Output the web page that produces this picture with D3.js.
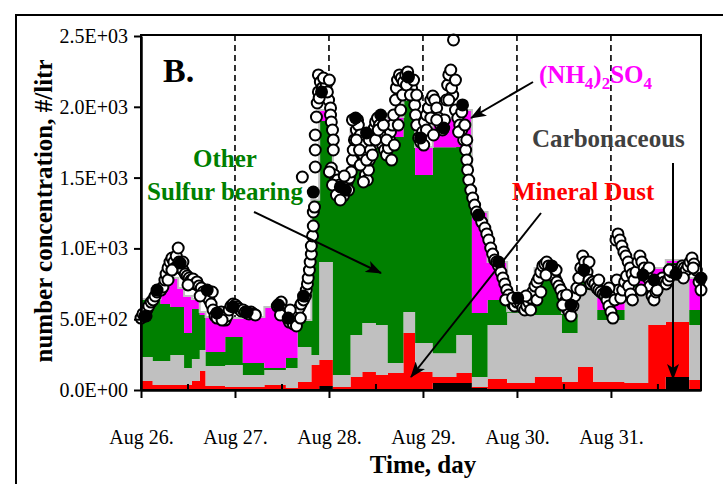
<!DOCTYPE html>
<html>
<head>
<meta charset="utf-8">
<script src="https://cdn.jsdelivr.net/npm/d3@7"></script>
<style>
  body { margin: 0; background: #fff; }
  svg { display: block; font-family: "Liberation Serif", "Times New Roman", serif; }
</style>
</head>
<body>
<svg id="chart" width="723" height="484"></svg>
<script type="text/javascript">

// step starts, hours after Aug 26 00:00
var stepHours = [0, 3, 5, 7.5, 9.5, 11, 13, 15, 16.5, 21.5, 26, 31.5, 37, 40, 43.5, 45.5, 49, 53.5, 56.5, 60,
                 63, 67, 70, 74.5, 80.5, 84.5, 88.5, 93.5, 100.5, 104.5, 107.5, 111.5, 115.5, 116.5, 123.5, 129.5, 134, 140];
var endHour = 143;

var carbonaceous = [0, 0, 0, 0, 0, 0, 0, 0, 0, 0, 0, 0, 0, 0, 0, 28, 0, 0, 0, 0,
                    0, 0, 0, 49, 49, 14, 0, 0, 0, 0, 0, 0, 0, 0, 0, 0, 92, 0];
var mineralDust = [64, 35, 35, 35, 35, 35, 64, 134, 28, 21, 21, 35, 14, 56, 177, 184, 21, 92, 127, 106,
                   120, 403, 127, 42, 71, 7, 78, 49, 92, 92, 56, 162, 56, 56, 49, 459, 388, 71];
var otherPart = [169, 169, 169, 212, 212, 120, 155, 148, 141, 155, 85, 106, 141, 247, 71, 692, 85, 297, 346, 353,
                 71, 148, 205, 169, 268, 71, 381, 494, 438, 438, 346, 544, 650, 438, 678, 297, 403, 388];
var sulfurBearing = [410, 438, 403, 339, 339, 247, 353, 247, 99, 198, 85, 14, 71, 191, 1095, 996, 1271, 1328, 1243, 1342,
                     1596, 1497, 1186, 1455, 1328, 452, 177, 14, 275, 247, 141, 99, 99, 71, 21, 14, 14, 106];
var ammSulfate = [0, 0, 169, 205, 134, 261, 71, 21, 247, 134, 325, 431, 325, 0, 0, 78, 56, 134, 0, 106,
                  141, 0, 198, 205, 261, 713, 268, 0, 56, 0, 0, 0, 0, 92, 28, 92, 21, 226];

// measured total concentration (open circles)
var obsHours = [0.0, 0.5, 1.0, 1.5, 2.0, 2.6, 3.1, 3.6, 4.1, 4.6, 5.1, 5.6, 6.1, 6.4, 6.9, 7.4, 7.9, 8.4, 8.7, 9.0,
  9.5, 9.7, 10.2, 10.7, 11.3, 11.8, 12.3, 12.8, 13.3, 13.8, 14.3, 14.8, 15.4, 15.9, 16.4, 16.9, 17.4, 17.9, 18.4, 18.9,
  19.4, 20.0, 20.5, 21.0, 21.5, 22.0, 22.5, 23.0, 23.5, 24.1, 24.6, 25.1, 25.6, 26.1, 26.6, 27.1, 27.6, 28.1, 28.7, 29.2,
  34.8, 35.3, 35.8, 36.3, 36.8, 37.4, 37.9, 38.4, 38.9, 39.4, 39.9, 40.4, 40.9, 41.5, 42.0, 42.2, 42.5, 42.7, 43.0, 43.2,
  43.5, 43.5, 43.8, 44.0, 44.0, 44.3, 41.2, 44.5, 44.5, 44.5, 44.8, 45.0, 45.3, 45.3, 45.8, 46.3, 46.8, 47.3, 47.9, 48.4,
  48.4, 48.6, 48.9, 49.1, 49.1, 48.6, 49.4, 50.2, 50.7, 51.2, 51.7, 52.2, 52.7, 53.2, 53.7, 54.0, 54.2, 54.5, 55.0, 55.3,
  55.5, 56.0, 56.5, 56.8, 57.1, 57.3, 57.8, 58.1, 58.3, 58.6, 58.9, 59.1, 59.6, 59.9, 60.4, 60.9, 61.2, 61.7, 62.2, 62.7,
  63.2, 63.5, 63.7, 64.2, 64.5, 65.0, 65.2, 65.5, 66.0, 66.5, 67.0, 67.6, 68.1, 68.6, 69.1, 69.3, 69.9, 70.1, 70.4, 70.9,
  71.4, 71.9, 72.4, 72.9, 73.4, 74.0, 74.5, 75.0, 75.5, 76.0, 76.5, 77.0, 77.5, 78.0, 78.3, 78.6, 79.1, 79.8, 79.6, 80.3,
  80.9, 81.4, 81.9, 82.4, 82.9, 83.2, 83.4, 83.7, 84.2, 84.7, 85.2, 85.7, 86.2, 87.0, 87.8, 88.3, 88.8, 89.3, 89.8, 90.3,
  90.8, 91.3, 91.9, 92.4, 92.9, 93.4, 93.9, 94.4, 94.9, 95.4, 96.0, 96.5, 97.0, 97.5, 98.0, 98.5, 99.0, 99.5, 99.5, 100.0,
  100.6, 101.1, 101.1, 101.6, 102.1, 102.1, 102.6, 103.1, 103.6, 104.1, 104.7, 105.2, 105.7, 106.2, 106.7, 107.2, 107.7, 108.2, 108.7, 109.3,
  109.8, 110.3, 110.8, 111.3, 111.8, 112.3, 112.8, 113.3, 113.9, 114.4, 114.9, 115.4, 115.9, 116.4, 116.9, 117.4, 118.0, 118.5, 119.0, 119.5,
  120.0, 120.5, 121.0, 121.3, 121.5, 121.8, 122.0, 122.3, 122.5, 122.8, 123.0, 123.3, 123.5, 123.8, 124.0, 124.4, 124.5, 124.9, 125.0, 125.4,
  125.5, 125.9, 126.4, 126.9, 127.4, 127.9, 128.5, 129.0, 129.5, 130.0, 130.5, 131.0, 131.5, 132.0, 132.5, 133.1, 133.6, 134.1, 134.6, 135.1,
  135.6, 136.1, 136.6, 137.1, 137.7, 138.2, 138.7, 139.2, 139.7, 140.2, 140.7, 141.2, 141.8, 142.5, 143.0,
  45.5, 46.6, 47.6, 48.1, 48.1, 48.9, 49.9, 50.9, 51.9, 53.0, 54.0, 55.0, 55.8, 56.0, 56.8, 57.6, 58.3, 59.1, 59.9, 60.6,
  61.9, 62.7, 64.0, 64.7, 65.7, 66.3, 66.8, 67.8, 68.8, 69.6, 70.4, 72.2, 72.9, 74.0, 74.7, 75.5, 78.6, 79.3, 80.3, 81.1,
  81.9, 82.7, 83.2, 6.9, 7.9, 10.7, 12.0, 15.1, 18.2, 20.7, 35.6, 38.1, 39.7, 40.7, 93.1, 94.9, 98.3, 103.4, 106.0, 107.7,
  108.7, 112.3, 114.4, 116.9, 119.5, 127.7, 129.7, 131.8, 134.9, 138.5, 141.0];
var obsValues = [508, 537, 523, 565, 593, 621, 636, 664, 692, 706, 706, 727, 777, 819, 862, 904, 932, 904, 862, 946,
  1003, 904, 876, 847, 819, 805, 791, 777, 784, 749, 763, 734, 720, 692, 678, 664, 636, 607, 565, 523,
  508, 537, 551, 523, 494, 523, 565, 593, 607, 600, 586, 572, 558, 565, 551, 544, 537, 551, 537, 530,
  593, 607, 621, 565, 537, 508, 480, 494, 466, 508, 551, 579, 607, 636, 664, 706, 749, 791, 847, 904,
  960, 1017, 1088, 1158, 1257, 1292, 1504, 1575, 1695, 1801, 1928, 2027, 2105, 2225, 2175, 2133, 2083, 2154, 2048, 1992,
  1942, 1893, 1836, 1766, 1695, 1568, 1518, 1483, 1448, 1398, 1370, 1427, 1469, 1497, 1540, 1624, 1695, 1766, 1836, 1907,
  1871, 1801, 1730, 1660, 1589, 1518, 1483, 1554, 1624, 1695, 1766, 1822, 1850, 1893, 1921, 1871, 1801, 1730, 1695, 1660,
  1709, 1766, 1822, 1871, 1942, 2048, 2133, 2189, 2225, 2203, 2175, 2225, 2246, 2189, 2133, 2083, 2013, 1942, 1871, 1780,
  1751, 1822, 1893, 1942, 1992, 2048, 2076, 2048, 1992, 1921, 1871, 1836, 1907, 2048, 2154, 2225, 2260, 2472, 2083, 1977,
  1921, 1871, 1836, 1766, 1695, 1624, 1554, 1483, 1412, 1356, 1306, 1257, 1229, 1186, 1144, 1102, 1059, 1003, 960, 918,
  904, 876, 833, 791, 749, 706, 671, 636, 607, 593, 621, 636, 607, 579, 565, 593, 621, 650, 565, 692,
  734, 763, 636, 791, 833, 692, 876, 890, 904, 876, 847, 819, 791, 763, 734, 706, 664, 621, 579, 551,
  523, 593, 664, 720, 791, 862, 946, 904, 833, 777, 749, 763, 749, 720, 706, 692, 678, 664, 636, 593,
  551, 508, 636, 1059, 777, 1102, 706, 1059, 650, 1017, 706, 975, 763, 946, 805, 904, 734, 862, 678, 819,
  636, 777, 833, 904, 946, 904, 862, 833, 791, 734, 664, 636, 692, 749, 777, 791, 763, 749, 777, 805,
  833, 847, 833, 819, 847, 876, 862, 847, 876, 904, 932, 890, 847, 763, 706,
  2062, 2203, 2105, 2189, 1540, 1448, 1377, 1342, 1511, 1412, 1907, 1766, 1695, 1589, 1469, 1624, 1766, 1660, 1766, 1836,
  1871, 1766, 1624, 1730, 1871, 1977, 2083, 2154, 2083, 2189, 2083, 1730, 1836, 1921, 1801, 1907, 2048, 2133, 2189, 1822,
  1963, 1871, 1766, 777, 847, 904, 742, 664, 692, 494, 530, 565, 452, 508, 636, 650, 664, 812, 847, 600,
  671, 706, 904, 777, 720, 706, 862, 706, 847, 791, 862];

// averaged total concentration (filled circles)
var avgHours = [1.3, 4.1, 10.0, 16.9, 19.4, 23.5, 27.1, 35.1, 37.6, 41.5, 44.0, 46.1, 50.9, 52.2, 54.8, 57.6, 61.2, 68.3, 71.4, 77.3,
                82.1, 86.2, 91.3, 96.2, 104.9, 109.8, 113.1, 118.7, 128.2, 131.0, 136.6, 143.0];
var avgValues = [523, 706, 897, 706, 544, 586, 551, 600, 508, 664, 1398, 2105, 1434, 1412, 1921, 1815, 1942, 2210, 1780, 1850,
                 2013, 1236, 904, 650, 876, 600, 847, 692, 812, 777, 819, 791];

var yTicks = [0, 500, 1000, 1500, 2000, 2500];
var keys = ["carb", "dust", "other", "sulfur", "amm"];
var colors = ["#000000", "#ff0000", "#c0c0c0", "#008000", "#ff00ff"];

var start = new Date(2001, 7, 26);
function hr(h) { return new Date(start.getTime() + h * 3600000); }

var svg = d3.select("#chart");

var x = d3.scaleTime().domain([hr(0), hr(endHour)]).range([141, 701]);
var y = d3.scaleLinear().domain([0, 2500]).range([390, 36]);

// outer frame
svg.append("rect")
   .attr("x", 16).attr("y", 15).attr("width", 730).attr("height", 490)
   .attr("fill", "none").attr("stroke", "#000").attr("stroke-width", 2);

// dashed day lines
var days = d3.timeDay.range(hr(24), hr(endHour));
svg.selectAll(".dayline")
   .data(days)
   .enter()
   .append("line")
   .attr("x1", function(d) { return x(d); })
   .attr("x2", function(d) { return x(d); })
   .attr("y1", 35).attr("y2", 390)
   .attr("stroke", "#000").attr("stroke-width", 1.6)
   .attr("stroke-dasharray", "6,4");

var rows = stepHours.map(function(h, i) {
  return { t: hr(h), carb: carbonaceous[i], dust: mineralDust[i], other: otherPart[i],
           sulfur: sulfurBearing[i], amm: ammSulfate[i] };
});
var last = Object.assign({}, rows[rows.length - 1]);
last.t = hr(endHour);
rows.push(last);

var series = d3.stack().keys(keys)(rows);

var area = d3.area()
   .curve(d3.curveStepAfter)
   .x(function(d) { return x(d.data.t); })
   .y0(function(d) { return y(d[0]); })
   .y1(function(d) { return y(d[1]); });

svg.selectAll(".layer")
   .data(series)
   .enter()
   .append("path")
   .attr("d", area)
   .attr("fill", function(d, i) { return colors[i]; });

// light outline along the stack top
svg.append("path")
   .datum(series[series.length - 1])
   .attr("d", d3.line().curve(d3.curveStepAfter)
      .x(function(d) { return x(d.data.t); })
      .y(function(d) { return y(d[1]); }))
   .attr("fill", "none").attr("stroke", "#c0c0c0").attr("stroke-width", 2);

// circles
svg.selectAll(".obs")
   .data(obsHours)
   .enter()
   .append("circle")
   .attr("cx", function(d) { return x(hr(d)); })
   .attr("cy", function(d, i) { return y(obsValues[i]); })
   .attr("r", 5.5)
   .attr("fill", "#fff").attr("stroke", "#000").attr("stroke-width", 2);

svg.selectAll(".avg")
   .data(avgHours)
   .enter()
   .append("circle")
   .attr("cx", function(d) { return x(hr(d)); })
   .attr("cy", function(d, i) { return y(avgValues[i]); })
   .attr("r", 6.5)
   .attr("fill", "#000");

// plot frame
svg.append("rect")
   .attr("x", 141).attr("y", 35).attr("width", 560).attr("height", 355)
   .attr("fill", "none").attr("stroke", "#000").attr("stroke-width", 2);

function sci(d) {
  if (d === 0) return "0.0E+00";
  var e = Math.floor(Math.log10(d));
  return (d / Math.pow(10, e)).toFixed(1) + "E+" + (e < 10 ? "0" : "") + e;
}

var yAxis = svg.append("g")
   .attr("transform", "translate(141,0)")
   .call(d3.axisLeft(y).tickValues(yTicks).tickFormat(sci).tickSize(7).tickSizeOuter(0).tickPadding(6));
yAxis.selectAll("text").attr("font-size", 20).attr("font-family", "Liberation Serif");
yAxis.selectAll("line").attr("stroke-width", 2);
yAxis.select(".domain").attr("stroke-width", 2.5);

var xAxis = svg.append("g")
   .attr("transform", "translate(0,390)")
   .call(d3.axisBottom(x).ticks(d3.timeDay.every(1)).tickFormat(d3.timeFormat("%b %d.")).tickSize(8).tickSizeOuter(0).tickPadding(32));
xAxis.selectAll("text").attr("font-size", 20).attr("font-family", "Liberation Serif");
xAxis.selectAll("line").attr("stroke-width", 2);
xAxis.select(".domain").attr("stroke-width", 2.5);

// noon ticks point inward
var noons = d3.timeHour.every(12).range(hr(0), hr(endHour)).filter(function(d) { return d.getHours() === 12; });
svg.selectAll(".noon")
   .data(noons)
   .enter()
   .append("line")
   .attr("x1", function(d) { return x(d); })
   .attr("x2", function(d) { return x(d); })
   .attr("y1", 390).attr("y2", 384)
   .attr("stroke", "#000").attr("stroke-width", 2);

// axis titles
svg.append("text")
   .attr("transform", "translate(52,211) rotate(-90)")
   .attr("text-anchor", "middle")
   .attr("font-size", 25).attr("font-weight", "bold")
   .text("number concentration, #/litr");

svg.append("text")
   .attr("x", 423).attr("y", 473)
   .attr("text-anchor", "middle")
   .attr("font-size", 25).attr("font-weight", "bold")
   .text("Time, day");

svg.append("text")
   .attr("x", 163).attr("y", 82)
   .attr("font-size", 34).attr("font-weight", "bold")
   .text("B.");

// arrows
var defs = svg.append("defs");
defs.append("marker")
   .attr("id", "head")
   .attr("viewBox", "0 0 16 12")
   .attr("markerUnits", "userSpaceOnUse")
   .attr("markerWidth", 16).attr("markerHeight", 12)
   .attr("refX", 15).attr("refY", 6)
   .attr("orient", "auto")
   .append("path")
   .attr("d", "M0,0 L16,6 L0,12 L4,6 Z")
   .attr("fill", "#000");

var arrows = [
  [533, 82, 471, 118],
  [254, 212, 381, 273],
  [541, 213, 411, 377],
  [673, 163, 673, 379]
];
svg.selectAll(".arrow")
   .data(arrows)
   .enter()
   .append("line")
   .attr("x1", function(d) { return d[0]; })
   .attr("y1", function(d) { return d[1]; })
   .attr("x2", function(d) { return d[2]; })
   .attr("y2", function(d) { return d[3]; })
   .attr("stroke", "#000").attr("stroke-width", 2)
   .attr("marker-end", "url(#head)");

// labels
var lab = svg.append("g").attr("font-size", 25).attr("font-weight", "bold");

lab.append("text").attr("x", 225).attr("y", 167).attr("text-anchor", "middle")
   .attr("fill", "#008000").text("Other");
lab.append("text").attr("x", 225).attr("y", 200).attr("text-anchor", "middle")
   .attr("fill", "#008000").text("Sulfur bearing");

lab.append("text").attr("x", 512).attr("y", 200)
   .attr("fill", "#ff0000").text("Mineral Dust");

lab.append("text").attr("x", 532).attr("y", 147)
   .attr("fill", "#404040").text("Carbonaceous");

var amm = lab.append("text").attr("x", 539).attr("y", 83).attr("fill", "#ff00ff");
amm.append("tspan").text("(NH");
amm.append("tspan").attr("dy", 6).attr("font-size", 17).text("4");
amm.append("tspan").attr("dy", -6).text(")");
amm.append("tspan").attr("dy", 6).attr("font-size", 17).text("2");
amm.append("tspan").attr("dy", -6).text("SO");
amm.append("tspan").attr("dy", 6).attr("font-size", 17).text("4");

</script>
</body>
</html>
